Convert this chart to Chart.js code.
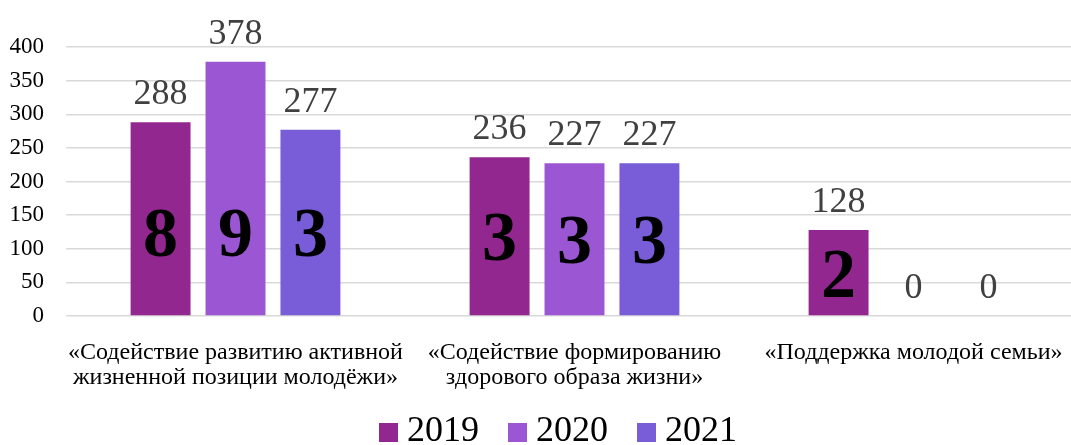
<!DOCTYPE html>
<html>
<head>
<meta charset="utf-8">
<script src="https://cdn.jsdelivr.net/npm/chart.js@4.4.1/dist/chart.umd.min.js"></script>
<style>
  html, body { margin: 0; padding: 0; background: #fff; overflow: hidden; }
  #wrap { position: relative; width: 1100px; height: 445px; }
</style>
</head>
<body>
<div id="wrap"><canvas id="c"></canvas></div>
<script>
const categories = [
  ["«Содействие развитию активной", "жизненной позиции молодёжи»"],
  ["«Содействие формированию", "здорового образа жизни»"],
  ["«Поддержка молодой семьи»"]
];
const seriesNames = ["2019", "2020", "2021"];
const values2019 = [288, 236, 128];
const values2020 = [378, 227, 0];
const values2021 = [277, 227, 0];
const counts2019 = [8, 3, 2];
const counts2020 = [9, 3, null];
const counts2021 = [3, 3, null];
const yTicks = [0, 50, 100, 150, 200, 250, 300, 350, 400];

const colors = ["#92278F", "#9B57D3", "#785CD8"];
const valuesAll = [values2019, values2020, values2021];
const countsAll = [counts2019, counts2020, counts2021];
const SERIF = '"Liberation Serif", "Times New Roman", serif';

function swatch(color) {
  const cv = document.createElement('canvas');
  cv.width = 19; cv.height = 19;
  const g = cv.getContext('2d');
  g.fillStyle = color; g.fillRect(0, 0, 19, 19);
  return cv;
}
const swatches = colors.map(swatch);

const labelPlugin = {
  id: 'barLabels',
  afterLayout(chart) {
    const lg = chart.legend;
    if (lg) {
      const dx = 21;
      lg.left += dx; lg.right += dx;
      lg.top = 376;
    }
  },
  afterDatasetsDraw(chart) {
    const ctx = chart.ctx;
    const yScale = chart.scales.y;
    chart.data.datasets.forEach((ds, di) => {
      const meta = chart.getDatasetMeta(di);
      meta.data.forEach((bar, i) => {
        const v = ds.data[i];
        ctx.save();
        ctx.font = '36px ' + SERIF;
        ctx.fillStyle = '#404040';
        ctx.textAlign = 'center';
        ctx.textBaseline = 'alphabetic';
        ctx.fillText(String(v), bar.x, bar.y - 18);
        const c = countsAll[di][i];
        if (c !== null && c !== undefined) {
          const anchor = yScale.getPixelForValue(Math.min(v / 2, 125));
          const fs = 70;
          ctx.font = 'bold ' + fs + 'px ' + SERIF;
          ctx.fillStyle = '#000000';
          ctx.fillText(String(c), bar.x, anchor + 0.34 * fs);
        }
        ctx.restore();
      });
    });
  }
};

new Chart(document.getElementById('c'), {
  type: 'bar',
  data: {
    labels: categories,
    datasets: seriesNames.map((name, k) => ({
      label: name,
      data: valuesAll[k],
      backgroundColor: colors[k],
      borderWidth: 0,
      categoryPercentage: 0.663,
      barPercentage: 0.8
    }))
  },
  options: {
    responsive: true,
    maintainAspectRatio: false,
    animation: false,
    layout: { padding: { left: 0, right: 17, top: 47, bottom: 0 } },
    plugins: {
      legend: {
        position: 'bottom',
        maxHeight: 49,
        labels: {
          usePointStyle: true,
          pointStyleWidth: 1,
          boxHeight: 19,
          padding: 38,
          color: '#000',
          font: { family: SERIF, size: 36 },
          generateLabels(chart) {
            const items = Chart.defaults.plugins.legend.labels.generateLabels(chart);
            items.forEach((it, k) => { it.pointStyle = swatches[k]; });
            return items;
          }
        }
      },
      tooltip: { enabled: false }
    },
    scales: {
      x: {
        afterFit(scale) { scale.height = 80; },
        grid: { display: false, drawTicks: false },
        border: { display: false },
        ticks: {
          color: '#000',
          padding: 24,
          maxRotation: 0,
          autoSkip: false,
          font: { family: SERIF, size: 24, lineHeight: '25px' }
        }
      },
      y: {
        min: 0,
        max: 400,
        afterBuildTicks(scale) { scale.ticks = yTicks.map(v => ({ value: v })); },
        afterFit(scale) { scale.width = 66; },
        grid: { color: '#d9d9d9', lineWidth: 1.5, drawTicks: false },
        border: { display: false },
        ticks: {
          color: '#000',
          padding: 22,
          font: { family: SERIF, size: 23 }
        }
      }
    }
  },
  plugins: [labelPlugin]
});
</script>
</body>
</html>
